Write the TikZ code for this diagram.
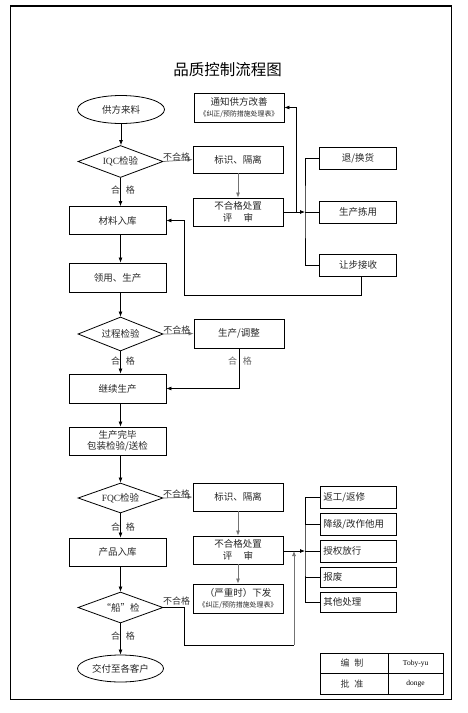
\documentclass[tikz,border=0pt]{standalone}
\usepackage{fontspec}
\setmainfont{Liberation Serif}
\newfontfamily\cjk{Noto Sans CJK SC}
\newfontfamily\lat{Liberation Serif}
\newcommand\smallcn{\fontsize{6.9}{8}\selectfont}
\usetikzlibrary{shapes.geometric,arrows.meta,calc}
\begin{document}
\begin{tikzpicture}[x=1pt,y=-1pt,
  txt/.style={font=\cjk\fontsize{9.5}{11.5}\selectfont, text=black!85},
  box/.style={txt, draw, line width=0.8pt, minimum width=97pt, minimum height=28pt, inner sep=1pt, align=center},
  mbox/.style={box, minimum width=90pt},
  rbox/.style={box, minimum width=76.5pt, minimum height=22pt},
  lbox/.style={rbox, text width=70pt, align=left, inner xsep=3pt},
  dia/.style={txt, draw, shape=diamond, aspect=2.6, inner sep=0pt, line width=0.8pt, minimum width=85pt, minimum height=32pt},
  ell/.style={txt, draw, shape=ellipse, inner sep=0pt, line width=0.8pt, minimum width=87pt, minimum height=28pt},
  conn/.style={line width=0.75pt, -{Latex[length=5pt,width=4pt]}},
  gconn/.style={conn, draw=black!55},
  plain/.style={line width=0.75pt},
  lab/.style={font=\cjk\fontsize{9}{10}\selectfont, text=black!80, inner sep=0.5pt},
  glab/.style={lab, text=black!60}
]
\useasboundingbox (0,0) rectangle (467,713);
\draw[line width=1.3pt] (10.5,6) rectangle (451.7,699.3);

\node[font=\cjk\fontsize{15.5}{17}\selectfont] (title) at (227.5,70) {品质控制流程图};

% left column
\node[ell] (e1) at (121,109.5) {供方来料};
\node[dia] (d1) at (120.5,161.5) {{\lat IQC}检验};
\node[box] (b1) at (117.5,220.5) {材料入库};
\node[box, minimum height=29pt] (b2) at (117.5,277.5) {领用、生产};
\node[dia, minimum height=34pt] (d2) at (120.5,334) {过程检验};
\node[box, minimum height=29pt] (b3) at (117.5,388.5) {继续生产};
\node[box] (b4) at (117.5,441) {生产完毕\\包装检验/送检};
\node[dia, minimum height=30pt] (d3) at (120.5,498) {{\lat FQC}检验};
\node[box] (b5) at (117.5,552) {产品入库};
\node[dia, minimum height=31pt] (d4) at (120.5,607.5) {“船”检};
\node[ell, minimum height=27pt, minimum width=86pt] (e2) at (120.5,668.5) {交付至各客户};

% middle column
\node[mbox, minimum height=29pt] (m1) at (239,107.5) {通知供方改善\\[-1pt]{\smallcn 《纠正/预防措施处理表》}};
\node[mbox, minimum height=27pt] (m2) at (238,159.5) {标识、隔离};
\node[mbox] (m3) at (238,212) {不合格处置\\评\hspace{1.2em}审};
\node[mbox, minimum height=29pt] (m4) at (239,333.5) {生产/调整};
\node[mbox] (m5) at (238,497) {标识、隔离};
\node[mbox] (m6) at (238,550) {不合格处置\\评\hspace{1.2em}审};
\node[mbox, minimum height=29pt] (m7) at (238,598.5) {（严重时）下发\\[-1pt]{\smallcn 《纠正/预防措施处理表》}};

% right column upper
\node[rbox] (r1) at (358,158) {退/换货};
\node[rbox] (r2) at (358,212) {生产拣用};
\node[rbox] (r3) at (358,265) {让步接收};

% right column lower
\node[lbox] (s1) at (358.3,497.5) {返工/返修};
\node[lbox] (s2) at (358.3,524) {降级/改作他用};
\node[lbox] (s3) at (358.3,551) {授权放行};
\node[lbox, minimum height=20pt] (s4) at (358.3,577) {报废};
\node[lbox, minimum height=20pt] (s5) at (358.3,602) {其他处理};

% junction coordinates
\coordinate (j1) at (305,212);
\coordinate (j2) at (296,212);
\coordinate (k1) at (184,295);
\coordinate (j3) at (305,551);
\coordinate (k2) at (184,645);
\coordinate (k3) at (294,645);
\coordinate (j4) at (294,551);

% main flow
\draw[conn] (e1.south) -- (e1.south |- d1.north);
\draw[conn] (d1.south) -- (d1.south |- b1.north);
\node[lab] (l1) at (123,190) {合\hspace{6pt}格};
\draw[conn] (b1.south -| d1.south) -- (d2.north |- b2.north);
\draw[conn] (b2.south -| d2.north) -- (d2.north);
\draw[conn] (d2.south) -- (d2.south |- b3.north);
\node[lab] (l2) at (123,361) {合\hspace{6pt}格};
\draw[conn] (b3.south -| d2.south) -- (d3.north |- b4.north);
\draw[conn] (b4.south -| d3.north) -- (d3.north);
\draw[conn] (d3.south) -- (d3.south |- b5.north);
\node[lab] (l3) at (123,527) {合\hspace{6pt}格};
\draw[conn] (b5.south -| d3.south) -- (d4.north);
\draw[conn] (d4.south) -- (e2.north);
\node[lab] (l4) at (123,636.5) {合\hspace{6pt}格};

% IQC branch
\draw[gconn] (d1.east) -- (m2.west) node[lab, pos=0.45, above=-1.5pt] (n1) {不合格};
\draw[gconn] (m2.south) -- (m3.north);
\draw[conn] (m3.east) -- (j1);
\draw[conn] (j2) |- (m1.east);
\draw[plain] (r1.west) -| (j1) |- (r3.west);
\draw[plain] (j1) -- (r2.west);
\draw[conn] ([xshift=3.7pt]r3.south) |- (k1) |- (b1.east);

% process branch
\draw[gconn] (d2.east) -- (m4.west) node[lab, pos=0.45, above=-1.5pt] (n2) {不合格};
\draw[conn] (m4.south) |- (b3.east);
\node[glab] (l5) at (240,361) {合\hspace{6pt}格};

% FQC branch
\draw[gconn] (d3.east) -- (m5.west) node[lab, pos=0.45, above=-1.5pt] (n3) {不合格};
\draw[gconn] (m5.south) -- (m6.north);
\draw[gconn] (m6.south) -- (m7.north);
\draw[conn] (m6.east |- j3) -- (j3);
\draw[plain] (s1.west) -| (j3) |- (s5.west);
\draw[plain] (s2.west) -- (s2.west -| j3);
\draw[plain] (j3) -- (s3.west);
\draw[plain] (s4.west) -- (s4.west -| j3);

% ship inspection branch
\draw[plain] (d4.east) -- (d4.east -| k2) -- (k2) -- (k3);
\draw[gconn] (k3) -- (j4);
\node[lab] (n4) at (176.5,601) {不合格};

% sign-off table
\draw[line width=0.8pt] (320,653.3) rectangle (443.3,694);
\draw[line width=0.8pt] (320,673.3) -- (443.3,673.3);
\draw[line width=0.8pt] (388,653.3) -- (388,694);
\node[lab] (t1) at (352,663.3) {编\hspace{5pt}制};
\node[lab] (t2) at (352,683.6) {批\hspace{5pt}准};
\node[font=\lat\fontsize{7.5}{9}\selectfont] (t3) at (415.6,663.3) {Toby-yu};
\node[font=\lat\fontsize{7.5}{9}\selectfont] (t4) at (415.6,683.6) {donge};
\end{tikzpicture}
\end{document}
